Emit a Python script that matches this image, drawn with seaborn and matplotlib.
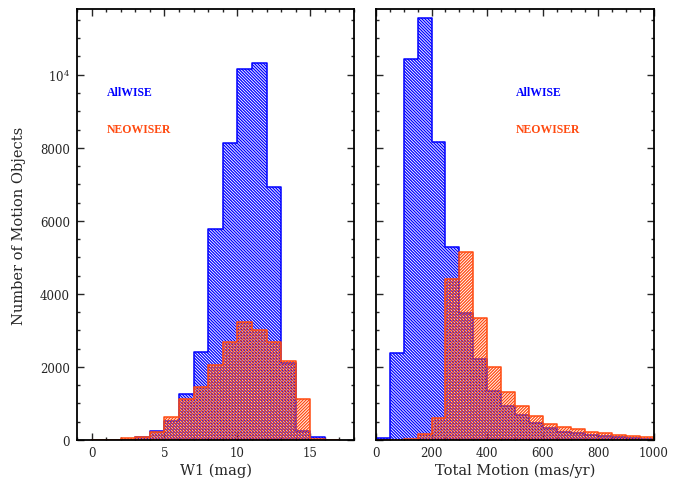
import numpy as np
import pandas as pd
import matplotlib
matplotlib.use("Agg")
import matplotlib.pyplot as plt
from matplotlib.ticker import MultipleLocator, FuncFormatter
import seaborn as sns

# ---- data ----
w1_edges = list(range(0, 18))  # W1 bins, 1 mag wide
allwise_w1 = [0, 5, 10, 73, 256, 530, 1250, 2400, 5780, 8130, 10150, 10330, 6920, 2100, 237, 73, 0]
neowiser_w1 = [5, 10, 45, 90, 210, 620, 1115, 1460, 2065, 2675, 3230, 3010, 2675, 2150, 1120, 27, 10]

pm_edges = list(range(0, 1001, 50))  # total motion bins, 50 mas/yr wide
allwise_pm = [45, 2375, 10420, 11550, 8155, 5280, 3480, 2220, 1333, 922,
              694, 466, 320, 228, 192, 137, 119, 82, 55, 40]
neowiser_pm = [0, 10, 40, 155, 603, 4420, 5140, 3333, 2000, 1306,
               922, 648, 438, 365, 300, 210, 183, 146, 100, 82]

series_names = ["AllWISE", "NEOWISER"]
xlabel_left = "W1 (mag)"
xlabel_right = "Total Motion (mas/yr)"
ylabel = "Number of Motion Objects"

BLUE = "#0000ff"
ORANGE = "#ff4a10"

sns.set_style("white")
plt.rcParams["font.family"] = ["DejaVu Serif"]
plt.rcParams["mathtext.fontset"] = "dejavuserif"
plt.rcParams["hatch.linewidth"] = 0.9

fig = plt.figure(figsize=(6.82, 4.81), dpi=100)
axL = fig.add_axes([77 / 682, 40 / 481, 277 / 682, 431 / 481])
axR = fig.add_axes([376 / 682, 40 / 481, 278 / 682, 431 / 481], sharey=axL)


def draw(ax, edges, counts, color, hatch):
    e = [float(v) for v in edges]
    centers = [(a + b) / 2 for a, b in zip(e[:-1], e[1:])]
    df = pd.DataFrame({"x": centers, "w": counts})
    sns.histplot(data=df, x="x", weights="w", bins=e, element="step", fill=True,
                 color=color, facecolor="none", edgecolor=color, hatch=hatch,
                 linewidth=1.1, ax=ax)


draw(axL, w1_edges, allwise_w1, BLUE, "\\" * 11)
draw(axL, w1_edges, neowiser_w1, ORANGE, "/" * 11)
draw(axR, pm_edges, allwise_pm, BLUE, "\\" * 11)
draw(axR, pm_edges, neowiser_pm, ORANGE, "/" * 11)

axL.set_xlim(-1, 18)
axR.set_xlim(0, 1000)
axL.set_ylim(0, 11800)

yfmt = FuncFormatter(lambda v, p: r"$10^4$" if abs(v - 10000) < 1 else f"{int(v)}")
for ax in (axL, axR):
    ax.yaxis.set_major_locator(MultipleLocator(2000))
    ax.yaxis.set_minor_locator(MultipleLocator(500))
    ax.yaxis.set_major_formatter(yfmt)
    ax.tick_params(which="both", direction="in", top=True, right=True,
                   left=True, bottom=True, width=1.0, labelsize=8.5)
    ax.tick_params(axis="y", pad=5)
    ax.tick_params(axis="x", pad=4)
    ax.tick_params(which="major", length=5)
    ax.tick_params(which="minor", length=2.5)
    for s in ax.spines.values():
        s.set_linewidth(1.3)
        s.set_color("black")
    ax.set_ylabel("")

axL.xaxis.set_major_locator(MultipleLocator(5))
axL.xaxis.set_minor_locator(MultipleLocator(1))
axR.xaxis.set_major_locator(MultipleLocator(200))
axR.xaxis.set_minor_locator(MultipleLocator(50))
axR.tick_params(labelleft=False)

axL.set_xlabel(xlabel_left, fontsize=10.5, labelpad=3)
axR.set_xlabel(xlabel_right, fontsize=10.5, labelpad=3)
axL.set_ylabel(ylabel, fontsize=10.5, labelpad=10)

for ax, xpos in ((axL, 0.107), (axR, 0.504)):
    ax.text(xpos, 0.807, series_names[0], transform=ax.transAxes, color=BLUE,
            fontsize=8.5, fontweight="bold", family="Liberation Serif", va="center")
    ax.text(xpos, 0.722, series_names[1], transform=ax.transAxes, color=ORANGE,
            fontsize=8.5, fontweight="bold", family="Liberation Serif", va="center")

fig.savefig("out.png", dpi=100)
